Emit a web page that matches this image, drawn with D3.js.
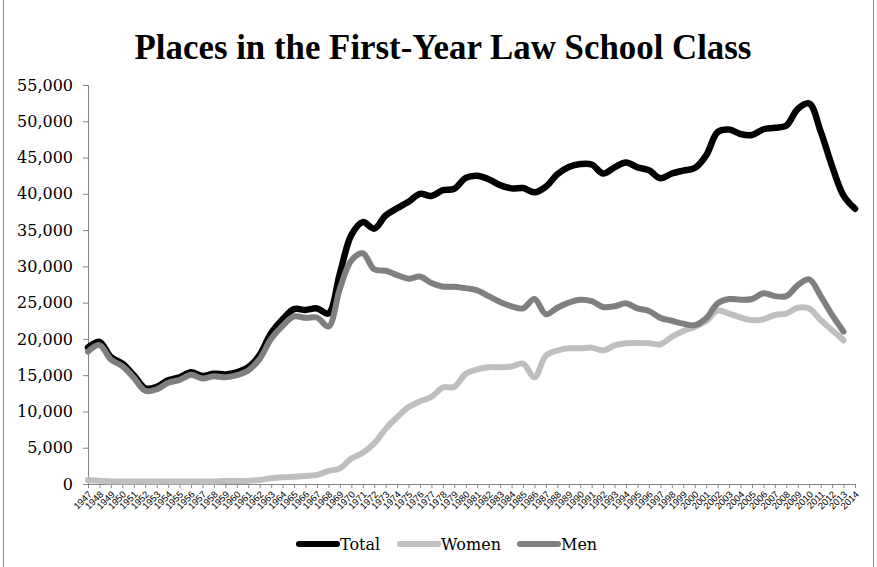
<!DOCTYPE html>
<html><head><meta charset="utf-8">
<script src="https://cdn.jsdelivr.net/npm/d3@7"></script>
<style>body{margin:0;background:#fff}svg{display:block}</style>
</head><body>
<svg id="c" width="877" height="567"></svg>
<script>
const years = d3.range(1947, 2015).map(String);
const total = [18800,19600,17500,16600,15000,13200,13400,14300,14700,15400,14900,15200,15100,15400,16100,17800,
 20800,22700,24100,24000,24200,23500,29000,34300,36100,35200,37000,38000,38900,40000,39700,40500,40700,
 42200,42500,42000,41200,40750,40800,40200,41000,42700,43700,44100,44050,42800,43650,44300,43650,43250,
 42150,42800,43200,43550,45300,48500,48850,48250,48100,48900,49100,49400,51700,52450,48600,43800,39750,37950];
const women = [550,450,350,350,350,350,350,350,350,350,350,350,400,400,450,550,
 780,920,1000,1100,1250,1800,2150,3500,4300,5600,7600,9200,10600,11400,12000,13300,13400,
 15200,15800,16100,16100,16200,16600,14700,17700,18400,18700,18700,18800,18400,19100,19400,19450,19400,
 19250,20300,21100,21650,22450,23900,23500,22950,22600,22700,23300,23500,24300,24200,22600,21200,19800,null];
const men = [18250,19150,17150,16250,14650,12850,13050,13950,14350,15050,14550,14850,14700,15000,15650,17250,
 20020,21800,23100,22900,22950,21700,26900,30800,31800,29600,29400,28800,28300,28600,27700,27200,27200,
 27000,26700,25900,25100,24500,24200,25500,23400,24300,25000,25400,25200,24400,24500,24900,24200,23850,
 22900,22500,22100,21900,22850,24900,25500,25400,25500,26300,25900,25900,27400,28200,25900,23300,21000,null];
const yTicks = [0,5000,10000,15000,20000,25000,30000,35000,40000,45000,50000,55000];
const seriesNames = ["Total","Women","Men"];
const seriesColors = ["#000000","#bfbfbf","#7f7f7f"];

const svg = d3.select("#c");
const pLeft = 88, pRight = 855, pTop = 85, pBottom = 484;
const x = d3.scalePoint().domain(years).range([pLeft, pRight]);
const y = d3.scaleLinear().domain([0, 55000]).range([pBottom, pTop]);
const axisColor = "#868686";

// frame edges
svg.append("line").attr("x1",3.5).attr("x2",3.5).attr("y1",0).attr("y2",567).attr("stroke","#8c8c8c");
svg.append("line").attr("x1",873.5).attr("x2",873.5).attr("y1",0).attr("y2",567).attr("stroke","#8c8c8c");

// title
const title = svg.append("text").attr("x", 443).attr("y", 59).attr("text-anchor","middle")
  .attr("font-family","'Liberation Serif', serif").attr("font-weight","bold").attr("font-size",30)
  .attr("fill","#000").text("Places in the First-Year Law School Class");
const tl = title.node().getComputedTextLength();
title.attr("font-size", 30 * 617 / tl);

// y axis
const yAxis = svg.append("g").attr("transform",`translate(${pLeft},0)`)
  .call(d3.axisLeft(y).tickValues(yTicks).tickSize(5).tickPadding(10).tickFormat(d3.format(",")));
yAxis.selectAll("path,line").attr("stroke", axisColor);
yAxis.selectAll("text").attr("font-family","'DejaVu Serif', serif").attr("font-size",16).attr("fill","#000");

// x axis
const xAxis = svg.append("g").attr("transform",`translate(0,${pBottom})`)
  .call(d3.axisBottom(x).tickSize(4).tickSizeOuter(0));
xAxis.select("path").attr("stroke", axisColor);
xAxis.selectAll("line").attr("stroke", axisColor);
xAxis.selectAll("text").attr("font-family","'Liberation Sans', sans-serif").attr("font-size",9.5).attr("fill","#000")
  .attr("text-anchor","end").attr("dy",0).attr("y",0)
  .attr("transform","translate(4,11) rotate(-45)");

// lines
const data = [total, women, men];
const line = d3.line().defined(d => d[1] != null)
  .x(d => x(d[0])).y(d => y(d[1])).curve(d3.curveCatmullRom.alpha(0.5));
data.forEach((vals, i) => {
  svg.append("path").datum(years.map((yr, j) => [yr, vals[j]]))
    .attr("d", line).attr("fill","none").attr("stroke", seriesColors[i])
    .attr("stroke-width", i === 0 ? 6.5 : 6).attr("stroke-linejoin","round").attr("stroke-linecap","round");
});

// legend
const legX = [299, 400, 520];
const lg = svg.append("g");
seriesNames.forEach((name, i) => {
  lg.append("line").attr("x1", legX[i]).attr("x2", legX[i] + 38).attr("y1", 544).attr("y2", 544)
    .attr("stroke", seriesColors[i]).attr("stroke-width", 6).attr("stroke-linecap","round");
  lg.append("text").attr("x", legX[i] + 41).attr("y", 550).attr("font-family","'DejaVu Serif', serif")
    .attr("font-size", 16).attr("fill","#000").text(name);
});
</script>
</body></html>
